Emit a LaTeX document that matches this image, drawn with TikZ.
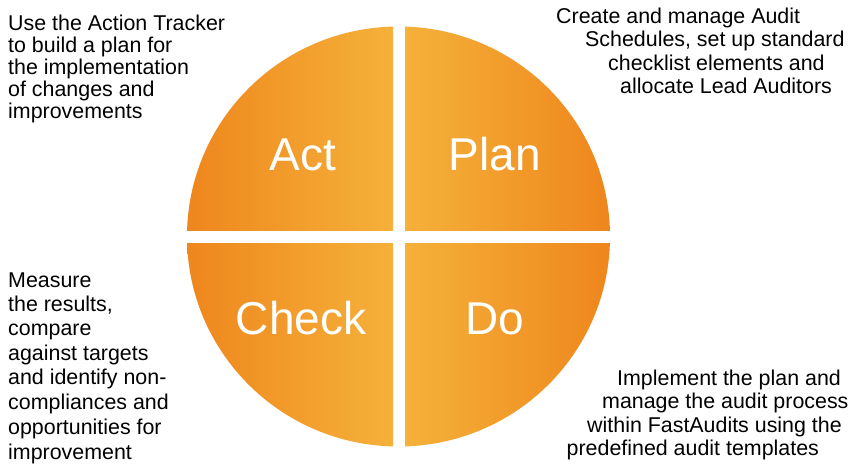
\documentclass[tikz,border=0pt]{standalone}
\usepackage{fontspec}
\setmainfont{Liberation Sans}
\definecolor{qdark}{RGB}{238,133,28}
\definecolor{qlight}{RGB}{245,177,58}
\tikzset{
  desc/.style={anchor=base west, inner sep=0pt, font=\fontsize{21.4}{22}\selectfont, text=black},
  big/.style={anchor=base, inner sep=0pt, font=\fontsize{46}{50}\selectfont, text=white},
  outerleft/.style={left color=qdark, right color=qlight},
  outerright/.style={left color=qlight, right color=qdark}
}
\begin{document}
\begin{tikzpicture}[x=1pt,y=-1pt]
\useasboundingbox (0,0) rectangle (868,472);
\begin{scope}
  \clip (398.5,236.5) ellipse[x radius=211.5pt, y radius=210pt];
  \shade[outerleft]  (180,20)  rectangle (393,230);
  \shade[outerright] (405,20)  rectangle (615,230);
  \shade[outerleft]  (180,243) rectangle (393,452);
  \shade[outerright] (405,243) rectangle (615,452);
\end{scope}
\node[big] (act)   at (303,170) {Act};
\node[big] (plan)  at (495,170) {Plan};
\node[big] (check) at (301,334) {Check};
\node[big] (do)    at (495,334) {Do};
% top left
\node[desc] (a1) at (8,30)  {Use the Action Tracker};
\node[desc] (a2) at (8,52)  {to build a plan for};
\node[desc] (a3) at (8,74)  {the implementation};
\node[desc] (a4) at (8,96)  {of changes and};
\node[desc] (a5) at (8,118) {improvements};
% top right
\node[desc] (p1) at (556,23)  {Create and manage Audit};
\node[desc] (p2) at (585,46.5) {Schedules, set up standard};
\node[desc] (p3) at (608,70)  {checklist elements and};
\node[desc] (p4) at (620,93.5) {allocate Lead Auditors};
% bottom left
\node[desc] (c1) at (8,287) {Measure};
\node[desc] (c2) at (8,311) {the results,};
\node[desc] (c3) at (8,335) {compare};
\node[desc] (c4) at (8,360) {against targets};
\node[desc] (c5) at (8,384) {and identify non-};
\node[desc] (c6) at (8,409) {compliances and};
\node[desc] (c7) at (8,434) {opportunities for};
\node[desc] (c8) at (8,459) {improvement};
% bottom right
\node[desc] (d1) at (617,385) {Implement the plan and};
\node[desc] (d2) at (602,408) {manage the audit process};
\node[desc] (d3) at (587,432) {within FastAudits using the};
\node[desc] (d4) at (566.5,455) {predefined audit templates};
\end{tikzpicture}
\end{document}
